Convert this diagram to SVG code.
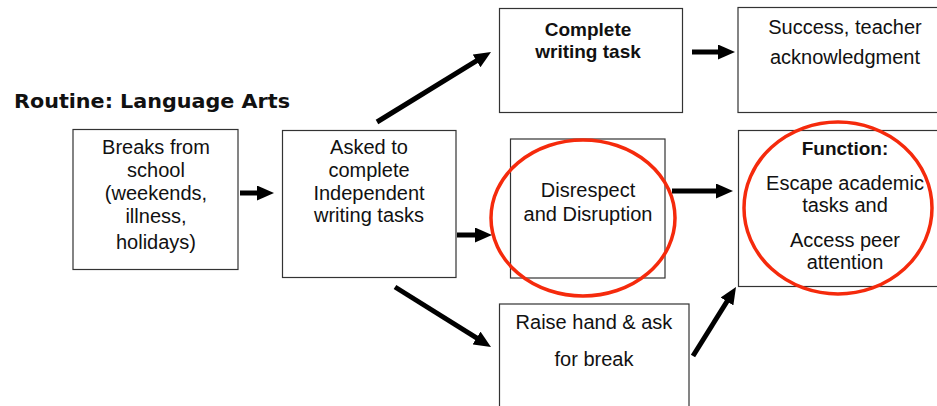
<svg xmlns="http://www.w3.org/2000/svg" width="937" height="406" viewBox="0 0 937 406">
<style>
.box{fill:#fff;stroke:#333;stroke-width:1.2}
.t{font-family:"Liberation Sans",Arial,sans-serif;font-size:20px;fill:#111;text-anchor:middle}
.b{font-family:"Liberation Sans",Arial,sans-serif;font-size:19px;font-weight:bold;fill:#111;text-anchor:middle}
.title{font-family:"DejaVu Sans",sans-serif;font-size:20px;font-weight:bold;fill:#111}
.ring{fill:none;stroke:#f52a0c;stroke-width:3.5}
.arr{stroke:#000;stroke-width:5;fill:none;marker-end:url(#ah)}
</style>
<defs>
<marker id="ah" markerUnits="userSpaceOnUse" markerWidth="17" markerHeight="15" refX="7" refY="7.5" orient="auto">
<path d="M0,0 L17,7.5 L0,15 z" fill="#000"/>
</marker>
</defs>
<rect width="937" height="406" fill="#fff"/>
<text class="title" x="14" y="108" textLength="276" lengthAdjust="spacingAndGlyphs">Routine: Language Arts</text>

<g id="breaks">
<rect class="box" x="73" y="129.5" width="165" height="140"/>
<text class="t" x="156" y="154">Breaks from</text>
<text class="t" x="156" y="177">school</text>
<text class="t" x="156" y="200">(weekends,</text>
<text class="t" x="156" y="223">illness,</text>
<text class="t" x="156" y="249">holidays)</text>
</g>
<g id="asked">
<rect class="box" x="282.5" y="130.5" width="173.5" height="147"/>
<text class="t" x="369" y="154">Asked to</text>
<text class="t" x="369" y="177">complete</text>
<text class="t" x="369" y="200">Independent</text>
<text class="t" x="369" y="222">writing tasks</text>
</g>
<g id="complete">
<rect class="box" x="499.5" y="8.5" width="183" height="104"/>
<text class="b" x="588" y="36">Complete</text>
<text class="b" x="588" y="58">writing task</text>
</g>
<g id="success">
<rect class="box" x="738" y="7.5" width="220" height="105"/>
<text class="t" x="845" y="34">Success, teacher</text>
<text class="t" x="845" y="64">acknowledgment</text>
</g>
<g id="disrespect">
<rect class="box" x="510.5" y="139" width="154.5" height="139"/>
<text class="t" x="588" y="197">Disrespect</text>
<text class="t" x="588" y="221">and Disruption</text>
<ellipse class="ring" cx="583" cy="218" rx="92" ry="78"/>
</g>
<g id="function">
<rect class="box" x="738.5" y="130.5" width="220" height="156"/>
<text class="b" x="845" y="155">Function:</text>
<text class="t" x="845" y="190">Escape academic</text>
<text class="t" x="845" y="212">tasks and</text>
<text class="t" x="845" y="247">Access peer</text>
<text class="t" x="845" y="269">attention</text>
<ellipse class="ring" cx="838" cy="208" rx="94" ry="86"/>
</g>
<g id="raise">
<rect class="box" x="499.5" y="304" width="189.5" height="120"/>
<text class="t" x="594" y="329">Raise hand &amp; ask</text>
<text class="t" x="594" y="366">for break</text>
</g>

<g id="connectors">
<line class="arr" x1="240" y1="193" x2="264" y2="193"/>
<line class="arr" x1="377" y1="122" x2="482.5" y2="57.2"/>
<line class="arr" x1="692" y1="52" x2="725" y2="52"/>
<line class="arr" x1="457" y1="235" x2="482" y2="235"/>
<line class="arr" x1="672" y1="191" x2="723" y2="191"/>
<line class="arr" x1="395" y1="287" x2="482.5" y2="341.7"/>
<line class="arr" x1="693" y1="356" x2="730.7" y2="295.5"/>
</g>
</svg>
